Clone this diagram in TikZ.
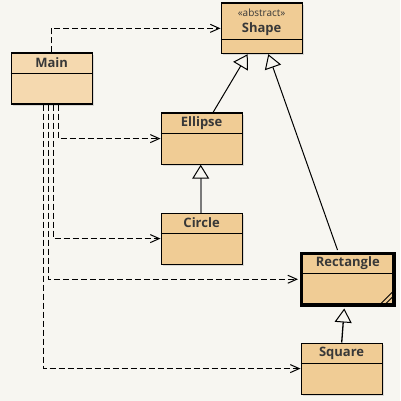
\documentclass[tikz,border=0pt]{standalone}
\usepackage{fontspec}
\setmainfont{Open Sans}
\usetikzlibrary{arrows.meta,shadows,calc}
\definecolor{bg}{HTML}{F7F6F1}
\definecolor{clsfill}{HTML}{F0CC95}
\definecolor{mainfill}{HTML}{F5D9AF}
\definecolor{txt}{HTML}{383838}
\definecolor{inhgray}{HTML}{7A7A7A}
\tikzset{
  box/.style={draw=black, line width=1.2pt, fill=clsfill, anchor=north west, inner sep=0pt,
    drop shadow={shadow xshift=1.5pt, shadow yshift=-1.5pt, opacity=0.25}},
  clstitle/.style={font=\bfseries\fontsize{13}{15}\selectfont, text=txt, inner sep=0pt},
  stereo/.style={font=\fontsize{10}{12}\selectfont, text=txt, inner sep=0pt},
  divider/.style={line width=1.2pt},
  dep/.style={draw=black, line width=1pt, dash pattern=on 6pt off 3pt,
    -{Straight Barb[length=9pt,width=8pt,line width=1pt]}},
  inh/.style={line width=1pt, -{Triangle[open,length=14pt,width=17pt,fill=bg,color=black,line width=1pt]}},
}
\begin{document}
\begin{tikzpicture}[x=1pt,y=-1pt]
\fill[bg] (0,0) rectangle (400,401);
\useasboundingbox (0,0) rectangle (400,401);

% boxes
\node[box, fill=mainfill, minimum width=81pt, minimum height=51pt] (main) at (10.5,52.5) {};
\node[box, minimum width=81pt, minimum height=50.5pt] (shape) at (220.5,2.5) {};
\node[box, minimum width=81pt, minimum height=51pt] (ellipse) at (160.5,112.5) {};
\node[box, minimum width=81pt, minimum height=51pt] (circle) at (160.5,212.5) {};
\node[box, line width=3.5pt, minimum width=92.5pt, minimum height=51.5pt] (rect) at (299.75,251.75) {};
\node[box, minimum width=81pt, minimum height=51pt] (square) at (300.5,342.5) {};

% dividers
\draw[divider] ($(main.north west)+(0,21)$) -- ($(main.north east)+(0,21)$);
\draw[divider] ($(shape.north west)+(0,37)$) -- ($(shape.north east)+(0,37)$);
\draw[divider] ($(ellipse.north west)+(0,21)$) -- ($(ellipse.north east)+(0,21)$);
\draw[divider] ($(circle.north west)+(0,21)$) -- ($(circle.north east)+(0,21)$);
\draw[divider] ($(rect.north west)+(0,21.5)$) -- ($(rect.north east)+(0,21.5)$);
\draw[divider] ($(square.north west)+(0,21)$) -- ($(square.north east)+(0,21)$);

% hatch corner
\draw[line width=1pt] ($(rect.south east)+(-18,0)$) -- ($(rect.south east)+(0,-18)$);
\draw[line width=1pt] ($(rect.south east)+(-13,0)$) -- ($(rect.south east)+(0,-13)$);

% titles
\node[clstitle] (tmain) at ($(main.north)+(0,10.5)$) {Main};
\node[stereo] (tabs) at ($(shape.north)+(0,10)$) {«abstract»};
\node[clstitle] (tshape) at ($(shape.north)+(0,27)$) {Shape};
\node[clstitle] (tell) at ($(ellipse.north)+(0,10.5)$) {Ellipse};
\node[clstitle] (tcir) at ($(circle.north)+(0,10.5)$) {Circle};
\node[clstitle] (trect) at ($(rect.north)+(0,11)$) {Rectangle};
\node[clstitle] (tsq) at ($(square.north)+(0,10.5)$) {Square};

% dependencies
\draw[dep] ($(main.north west)+(41,0)$) |- (shape.west);
\draw[dep] ($(main.south west)+(48,0)$) |- (ellipse.west);
\draw[dep] ($(main.south west)+(43,0)$) |- (circle.west);
\draw[dep] ($(main.south west)+(38,0)$) |- ($(rect.west)+(-1.75,0)$);
\draw[dep] ($(main.south west)+(33,0)$) |- (square.west);

% inheritance
\draw[inh] ($(ellipse.north west)+(52.5,0)$) -- ($(shape.south west)+(27.2,0)$);
\draw[inh] ($(rect.north west)+(37.75,-1.75)$) -- ($(shape.south west)+(47.8,0)$);
\draw[inh, draw=inhgray, line width=2pt] ($(circle.north west)+(40.2,0)$) -- ($(ellipse.south west)+(40.2,0)$);
\draw[inh, line width=1.3pt] ($(square.north west)+(41.2,0)$) -- ($(rect.south west)+(44.5,1.75)$);
\end{tikzpicture}
\end{document}
